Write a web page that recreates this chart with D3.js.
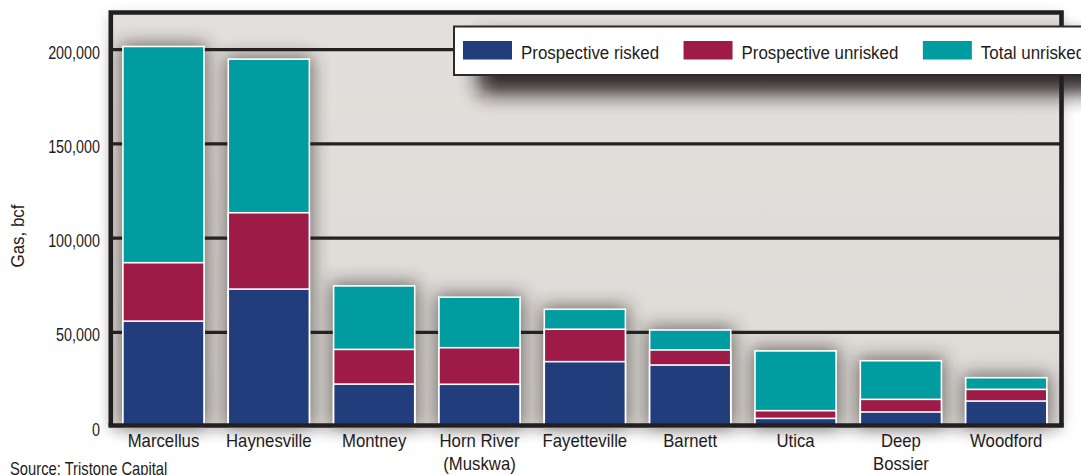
<!DOCTYPE html>
<html>
<head>
<meta charset="utf-8">
<script src="https://cdn.jsdelivr.net/npm/d3@7"></script>
<style>
  html, body { margin: 0; padding: 0; background: #ffffff; }
  svg { display: block; }
  text { font-family: "Liberation Sans", Arial, sans-serif; fill: #1f1b1c; }
</style>
</head>
<body>
<svg id="chart" width="1081" height="475"></svg>
<script>
// Shale plays and their gas resource estimates (bcf)
const categories = ["Marcellus", "Haynesville", "Montney", "Horn River (Muskwa)", "Fayetteville", "Barnett", "Utica", "Deep Bossier", "Woodford"];
const categoryLines = [["Marcellus"], ["Haynesville"], ["Montney"], ["Horn River", "(Muskwa)"], ["Fayetteville"], ["Barnett"], ["Utica"], ["Deep", "Bossier"], ["Woodford"]];

// Nested totals: risked <= unrisked <= total unrisked
const prospectiveRisked   = [56000, 73000, 22600, 22500, 34500, 32700, 4400, 7800, 13600];
const prospectiveUnrisked = [87000, 113500, 41000, 41900, 51700, 40700, 8500, 14500, 19800];
const totalUnrisked       = [201700, 195000, 74700, 68700, 62300, 51300, 40200, 35000, 26000];

const yTicks = [0, 50000, 100000, 150000, 200000];
const seriesNames = ["Prospective risked", "Prospective unrisked", "Total unrisked"];
const seriesColors = ["#213d7b", "#9e1b47", "#009c9f"];

const svg = d3.select("#chart");
const W = 1081, H = 475;

// condensed look: Liberation Sans squeezed horizontally
function condensed(sel, sx, x, y) {
  sel.attr("x", null).attr("y", null)
     .attr("transform", `translate(${x},${y}) scale(${sx},1)`);
}

// plot frame
const frame = { left: 110.8, right: 1061.5, top: 12.5, bottom: 425.5 };

const x = d3.scaleBand()
  .domain(categories)
  .range([frame.left, 1058.9])
  .paddingInner(0.23)
  .paddingOuter(0.115);

const y = d3.scaleLinear()
  .domain([0, 200000])
  .range([426.7, 49.7]);

const defs = svg.append("defs");

function blurFilter(id, sd) {
  defs.append("filter")
    .attr("id", id)
    .attr("filterUnits", "userSpaceOnUse")
    .attr("x", 0).attr("y", 0).attr("width", W).attr("height", H)
    .append("feGaussianBlur").attr("stdDeviation", sd);
}
blurFilter("frameShadow", 7);
blurFilter("barShadow", 9);
blurFilter("legendShadow", 10);

const bgGrad = defs.append("linearGradient").attr("id", "bgGrad")
  .attr("x1", 0).attr("y1", 0).attr("x2", 0).attr("y2", 1);
bgGrad.append("stop").attr("offset", 0).attr("stop-color", "#e3dfdc");
bgGrad.append("stop").attr("offset", 1).attr("stop-color", "#dedad6");

// soft shadow around the framed plot
svg.append("rect")
  .attr("x", frame.left - 2).attr("y", frame.top + 2)
  .attr("width", frame.right - frame.left + 4)
  .attr("height", frame.bottom - frame.top + 4)
  .attr("fill", "#000").attr("opacity", 0.18)
  .attr("filter", "url(#frameShadow)");

// plot background
svg.append("rect")
  .attr("x", frame.left).attr("y", frame.top)
  .attr("width", frame.right - frame.left)
  .attr("height", frame.bottom - frame.top)
  .attr("fill", "url(#bgGrad)");

// shadows behind the columns
svg.append("g")
  .selectAll("rect")
  .data(categories)
  .join("rect")
  .attr("x", d => x(d) - 3)
  .attr("y", (d, i) => y(totalUnrisked[i]) - 3)
  .attr("width", x.bandwidth() + 6)
  .attr("height", (d, i) => y(0) - y(totalUnrisked[i]) + 3)
  .attr("fill", "#2b2523")
  .attr("opacity", 0.62)
  .attr("filter", "url(#barShadow)");

// horizontal gridlines
svg.append("g")
  .selectAll("line")
  .data(yTicks.filter(v => v > 0))
  .join("line")
  .attr("x1", frame.left).attr("x2", frame.right)
  .attr("y1", d => y(d)).attr("y2", d => y(d))
  .attr("stroke", "#252021")
  .attr("stroke-width", 3.2);

// overlapping columns: total, then unrisked, then risked on top
const seriesValues = [prospectiveRisked, prospectiveUnrisked, totalUnrisked];
const drawOrder = [2, 1, 0];
const bars = svg.append("g");
drawOrder.forEach(s => {
  bars.append("g")
    .selectAll("rect")
    .data(categories)
    .join("rect")
    .attr("x", d => x(d))
    .attr("y", (d, i) => y(seriesValues[s][i]))
    .attr("width", x.bandwidth())
    .attr("height", (d, i) => y(0) - y(seriesValues[s][i]))
    .attr("fill", seriesColors[s])
    .attr("stroke", "#ffffff")
    .attr("stroke-width", 1.6);
});

// y axis labels
const yAxis = svg.append("g")
  .attr("transform", `translate(${frame.left},0)`)
  .call(d3.axisLeft(y).tickValues(yTicks).tickFormat(d3.format(",")).tickSize(0).tickPadding(10.8));
yAxis.select(".domain").remove();
yAxis.selectAll("text")
  .attr("dy", null)
  .style("font-family", "\"Liberation Sans\", Arial, sans-serif")
  .style("font-size", "17.5px")
  .attr("fill", "#1f1b1c")
  .call(condensed, 0.82, -10.8, 8.3);

// y axis title
svg.append("text")
  .attr("transform", "translate(24,236) rotate(-90) scale(0.94,1)")
  .attr("text-anchor", "middle")
  .style("font-size", "18px")
  .text("Gas, bcf");

// legend shadow
svg.append("rect")
  .attr("x", 478).attr("y", 38)
  .attr("width", 700).attr("height", 56)
  .attr("fill", "#1c1715").attr("opacity", 0.9)
  .attr("filter", "url(#legendShadow)");

// frame: left, top, right edges
svg.append("path")
  .attr("d", `M${frame.left},${frame.bottom} V${frame.top} H${frame.right} V${frame.bottom}`)
  .attr("fill", "none")
  .attr("stroke", "#231f20")
  .attr("stroke-width", 4.6);

// x axis with category labels
const xAxis = svg.append("g")
  .attr("transform", `translate(0,${frame.bottom})`)
  .call(d3.axisBottom(x).tickSize(0).tickPadding(0));
xAxis.select(".domain").remove();
svg.append("line")
  .attr("x1", frame.left - 2.3).attr("x2", frame.right + 2.3)
  .attr("y1", frame.bottom).attr("y2", frame.bottom)
  .attr("stroke", "#231f20").attr("stroke-width", 4.4);
xAxis.selectAll(".tick text")
  .text(null)
  .attr("dy", null)
  .style("font-family", "\"Liberation Sans\", Arial, sans-serif")
  .style("font-size", "18px")
  .attr("fill", "#262223")
  .call(condensed, 0.93, 0, 0)
  .each(function(d, i) {
    const t = d3.select(this);
    categoryLines[i].forEach((line, k) => {
      t.append("tspan").attr("x", 0).attr("y", 22 + k * 22.5).text(line);
    });
  });

// legend
const legend = svg.append("g");
legend.append("rect")
  .attr("x", 454).attr("y", 26.5)
  .attr("width", 700).attr("height", 48.5)
  .attr("fill", "#ffffff")
  .attr("stroke", "#2e2a2b").attr("stroke-width", 2);
const legendScale = 0.89;
let lx = 463;
seriesNames.forEach((name, i) => {
  legend.append("rect")
    .attr("x", lx).attr("y", 41)
    .attr("width", 49).attr("height", 18.5)
    .attr("fill", seriesColors[i]);
  const t = legend.append("text")
    .style("font-size", "19px")
    .text(name)
    .call(condensed, legendScale, lx + 58, 59);
  lx += 58 + t.node().getComputedTextLength() * legendScale + 24.5;
});

// source note
svg.append("text")
  .style("font-size", "18px")
  .attr("fill", "#3a3637")
  .text("Source: Tristone Capital")
  .call(condensed, 0.82, 10, 475);
</script>
</body>
</html>
